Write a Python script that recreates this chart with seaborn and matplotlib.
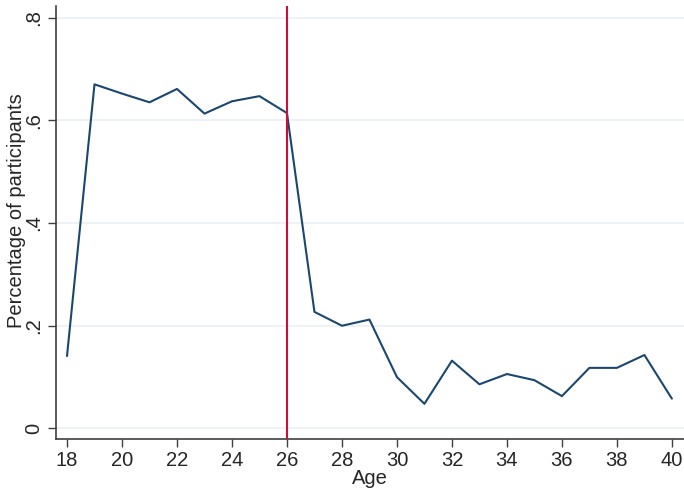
import matplotlib
matplotlib.use("Agg")
import matplotlib.pyplot as plt
import seaborn as sns
import pandas as pd

# Share of participants by age
ages = list(range(18, 41))
share = [0.141, 0.670, 0.652, 0.635, 0.661, 0.613, 0.637, 0.647, 0.614,
         0.227, 0.200, 0.212, 0.100, 0.048, 0.132, 0.086, 0.106, 0.094,
         0.063, 0.118, 0.118, 0.143, 0.058]
cutoff_age = 26
x_ticks = list(range(18, 41, 2))
y_ticks = [0, 0.2, 0.4, 0.6, 0.8]
y_tick_labels = ["0", ".2", ".4", ".6", ".8"]

df = pd.DataFrame({"Age": ages, "share": share})

sns.set_theme(style="white")
plt.rcParams["font.family"] = ["Liberation Sans", "DejaVu Sans"]

fig = plt.figure(figsize=(6.84, 4.91), dpi=100)
ax = fig.add_axes([56 / 684, 1 - 439 / 491, 1 - 56 / 684, (439 - 6) / 491])

for yv in y_ticks:
    ax.axhline(yv, color="#eaf1f5", lw=1.3, zorder=0)

sns.lineplot(data=df, x="Age", y="share", ax=ax, color="#1a476f", lw=1.5)
ax.axvline(cutoff_age, color="#c9103c", lw=1.5, zorder=3)

ax.set_xlim(17.6, 40.44)
ax.set_ylim(-0.0205, 0.8225)
ax.set_xticks(x_ticks)
ax.set_yticks(y_ticks)
ax.set_yticklabels(y_tick_labels, rotation=90, va="center")
ax.set_xlabel("Age", fontsize=14.5, labelpad=-1)
ax.set_ylabel("Percentage of participants", fontsize=14.5, labelpad=0)
ax.yaxis.set_label_coords(-0.048, 0.528)

ax.tick_params(axis="both", which="major", labelsize=14.5, length=6, width=1,
               color="#404040", direction="out", pad=3, bottom=True, left=True)
for side in ("top", "right"):
    ax.spines[side].set_visible(False)
for side in ("left", "bottom"):
    ax.spines[side].set_color("#404040")
    ax.spines[side].set_linewidth(1.2)

fig.savefig("out.png", dpi=100)
